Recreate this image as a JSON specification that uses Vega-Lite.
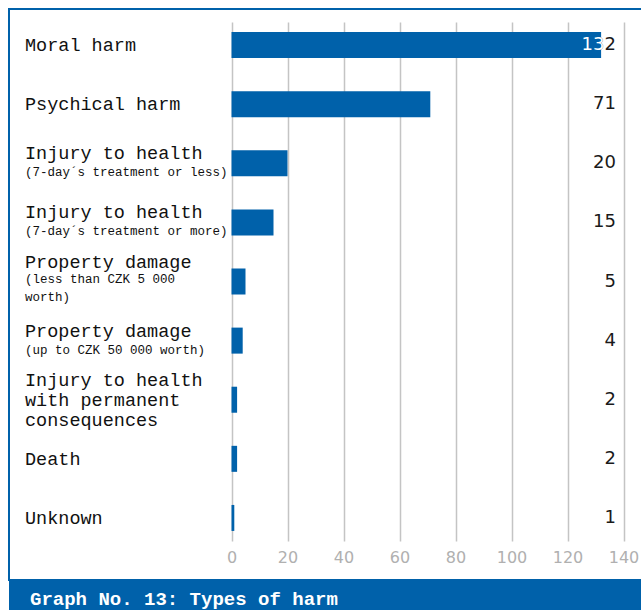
{
  "$schema": "https://vega.github.io/schema/vega-lite/v6.json",
  "padding": {"left": 8, "top": 8, "right": 0, "bottom": 0},
  "spacing": 0,
  "bounds": "flush",
  "background": "white",
  "config": {"view": {"stroke": null}},
  "datasets": {
    "harm": [
      {"cat": "Moral harm", "label": "\u200b\n\u200b\nMoral harm", "sub": "", "value": 132},
      {"cat": "Psychical harm", "label": "\u200b\n\u200b\nPsychical harm", "sub": "", "value": 71},
      {"cat": "Injury to health (7-day's treatment or less)", "label": "\u200b\nInjury to health", "sub": "\u200b\n\u200b\n(7-day´s treatment or less)", "value": 20},
      {"cat": "Injury to health (7-day's treatment or more)", "label": "\u200b\nInjury to health", "sub": "\u200b\n\u200b\n(7-day´s treatment or more)", "value": 15},
      {"cat": "Property damage (less than CZK 5 000 worth)", "label": "Property damage", "sub": "(less than CZK 5 000\n\u200b\n\u200b\nworth)", "value": 5},
      {"cat": "Property damage (up to CZK 50 000 worth)", "label": "\u200b\nProperty damage", "sub": "\u200b\n\u200b\n(up to CZK 50 000 worth)", "value": 4},
      {"cat": "Injury to health with permanent consequences", "label": "Injury to health\n\u200b\nwith permanent\n\u200b\nconsequences", "sub": "", "value": 2},
      {"cat": "Death", "label": "\u200b\n\u200b\nDeath", "sub": "", "value": 2},
      {"cat": "Unknown", "label": "\u200b\n\u200b\nUnknown", "sub": "", "value": 1}
    ]
  },
  "vconcat": [
    {
      "width": 640,
      "height": 571,
      "view": {"stroke": "#0061aa", "strokeWidth": 2},
      "data": {"name": "harm"},
      "encoding": {
        "y": {
          "field": "cat",
          "type": "nominal",
          "sort": null,
          "scale": {"range": [13, 532], "paddingInner": 0.56, "paddingOuter": 0.17},
          "axis": null
        }
      },
      "layer": [
        {
          "mark": {"type": "text", "align": "left", "baseline": "middle", "font": "Liberation Mono", "fontSize": 18.5, "lineHeight": 10, "lineBreak": "\n", "dy": -20, "color": "#111111"},
          "encoding": {
            "x": {"datum": -73.75, "type": "quantitative"},
            "text": {"field": "label"}
          }
        },
        {
          "mark": {"type": "text", "align": "left", "baseline": "middle", "font": "Liberation Mono", "fontSize": 12.5, "lineHeight": 6, "lineBreak": "\n", "dy": -3, "color": "#111111"},
          "encoding": {
            "x": {"datum": -73.75, "type": "quantitative"},
            "text": {"field": "sub"}
          }
        },
        {
          "mark": {"type": "text", "align": "right", "baseline": "middle", "font": "DejaVu Sans", "fontSize": 18, "color": "#1a1a1a"},
          "encoding": {
            "x": {"datum": 137.3, "type": "quantitative"},
            "text": {"field": "value", "type": "quantitative"}
          }
        },
        {
          "mark": {"type": "bar", "color": "#0061aa"},
          "encoding": {
            "x": {
              "field": "value",
              "type": "quantitative",
              "scale": {"domain": [0, 140], "range": [222.5, 614.5], "nice": false, "zero": false},
              "axis": {
                "values": [0, 20, 40, 60, 80, 100, 120, 140],
                "orient": "bottom",
                "offset": -39,
                "grid": false,
                "domain": false,
                "ticks": true,
                "tickSize": -519,
                "tickColor": "#c4c4c4",
                "tickWidth": 1.5,
                "labelPadding": 527,
                "labelFlush": false,
                "labelOverlap": false,
                "labelFont": "DejaVu Sans",
                "labelFontSize": 16,
                "labelColor": "#b0b0b0",
                "title": null
              }
            }
          }
        },
        {
          "transform": [{"filter": "datum.value >= 100"}],
          "mark": {"type": "text", "align": "right", "baseline": "middle", "font": "DejaVu Sans", "fontSize": 18, "color": "white", "dx": -11.45, "limit": 26, "ellipsis": "\u200b", "dir": "ltr"},
          "encoding": {
            "x": {"datum": 137.3, "type": "quantitative"},
            "text": {"field": "value", "type": "quantitative"}
          }
        }
      ]
    },
    {
      "width": 640,
      "height": 30,
      "view": {"stroke": null},
      "data": {"values": [{"title": "Graph No. 13: Types of harm"}]},
      "layer": [
        {
          "mark": {"type": "rect", "color": "#0061aa"},
          "encoding": {
            "x": {"datum": 0, "type": "quantitative", "scale": {"domain": [0, 1], "nice": false, "zero": false}, "axis": null},
            "x2": {"datum": 1},
            "y": {"datum": 0, "type": "quantitative", "scale": {"domain": [0, 1], "nice": false, "zero": false}, "axis": null},
            "y2": {"datum": 1}
          }
        },
        {
          "mark": {"type": "text", "align": "left", "baseline": "middle", "font": "Liberation Mono", "fontSize": 19, "fontWeight": "bold", "color": "white", "dy": 3.5},
          "encoding": {
            "x": {"datum": 0.0328, "type": "quantitative"},
            "text": {"field": "title"}
          }
        }
      ]
    }
  ]
}
